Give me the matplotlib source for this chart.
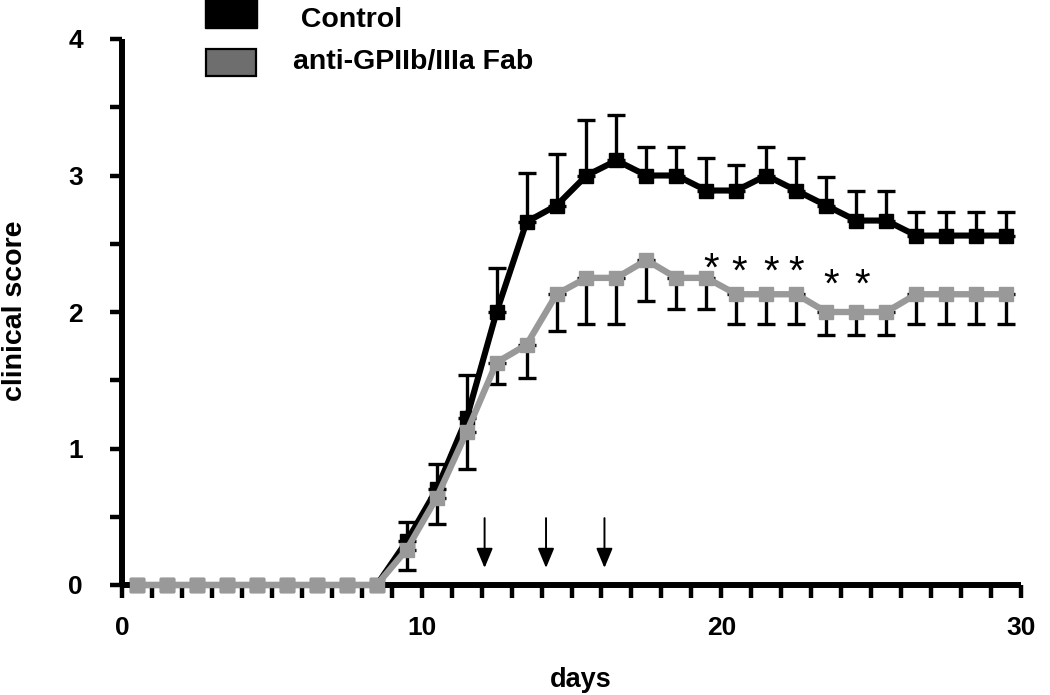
import matplotlib
matplotlib.use("Agg")
import matplotlib.pyplot as plt
from matplotlib.patches import Rectangle
from matplotlib.ticker import MultipleLocator, FixedLocator
import numpy as np

# ---- data ----
days = [0.5, 1.5, 2.5, 3.5, 4.5, 5.5, 6.5, 7.5, 8.5, 9.5,
        10.5, 11.5, 12.5, 13.5, 14.5, 15.5, 16.5, 17.5, 18.5, 19.5,
        20.5, 21.5, 22.5, 23.5, 24.5, 25.5, 26.5, 27.5, 28.5, 29.5]

control = [0, 0, 0, 0, 0, 0, 0, 0, 0, 0.32,
           0.70, 1.22, 2.00, 2.66, 2.78, 3.00, 3.11, 3.00, 3.00, 2.89,
           2.89, 3.00, 2.89, 2.78, 2.67, 2.67, 2.56, 2.56, 2.56, 2.56]
control_err = [0, 0, 0, 0, 0, 0, 0, 0, 0, 0.14,
               0.19, 0.32, 0.32, 0.36, 0.38, 0.41, 0.33, 0.21, 0.21, 0.24,
               0.19, 0.21, 0.24, 0.21, 0.22, 0.22, 0.17, 0.17, 0.17, 0.17]

fab = [0, 0, 0, 0, 0, 0, 0, 0, 0, 0.26,
       0.64, 1.12, 1.63, 1.76, 2.13, 2.25, 2.25, 2.38, 2.25, 2.25,
       2.13, 2.13, 2.13, 2.00, 2.00, 2.00, 2.13, 2.13, 2.13, 2.13]
fab_err = [0, 0, 0, 0, 0, 0, 0, 0, 0, 0.15,
           0.19, 0.27, 0.16, 0.24, 0.27, 0.34, 0.34, 0.30, 0.23, 0.23,
           0.22, 0.22, 0.22, 0.17, 0.17, 0.17, 0.22, 0.22, 0.22, 0.22]

arrow_days = [12.1, 14.15, 16.1]
star_days = [19.65, 20.6, 21.65, 22.5, 23.65, 24.7]
star_heights = [2.31, 2.29, 2.29, 2.29, 2.19, 2.19]

legend_labels = [" Control", "anti-GPIIb/IIIa Fab"]
x_major = [0, 10, 20, 30]
y_major = [0, 1, 2, 3, 4]

# ---- style ----
FONT = "Liberation Sans"
BLACK = "#000000"
GRAY = "#999999"
GRAY_LEG = "#6e6e6e"

W, H = 1050, 695
fig = plt.figure(figsize=(W / 100, H / 100), dpi=100)
left_px, right_px, top_px, bottom_px = 122, 1021, 39, 585
ax = fig.add_axes([left_px / W, 1 - bottom_px / H,
                   (right_px - left_px) / W, (bottom_px - top_px) / H])

ax.set_xlim(0, 30)
ax.set_ylim(0, 4)

for s in ["top", "right"]:
    ax.spines[s].set_visible(False)
for s in ["left", "bottom"]:
    ax.spines[s].set_linewidth(4.3)
    ax.spines[s].set_zorder(2)
    ax.spines[s].set_capstyle("butt")

ax.xaxis.set_major_locator(FixedLocator(x_major))
ax.xaxis.set_minor_locator(MultipleLocator(1))
ax.yaxis.set_major_locator(FixedLocator(y_major))
ax.yaxis.set_minor_locator(MultipleLocator(0.5))
ax.tick_params(axis="both", which="both", direction="out", length=9, width=3.2, color=BLACK)
ax.tick_params(axis="x", which="major", pad=13)
ax.tick_params(axis="y", which="major", pad=19)
for lab in ax.get_xticklabels() + ax.get_yticklabels():
    lab.set_fontfamily(FONT)
    lab.set_fontweight("bold")
    lab.set_fontsize(19)

d = np.array(days)
c = np.array(control)
ce = np.array(control_err)
f = np.array(fab)
fe = np.array(fab_err)

mc = ce > 0
ax.errorbar(d[mc], c[mc], yerr=[np.zeros(mc.sum()), ce[mc]], fmt="none",
            ecolor=BLACK, elinewidth=2.4, capsize=6.5, capthick=2.4, zorder=3)
ax.plot(d, c, color=BLACK, lw=4.4, marker="s", ms=9.5, mfc=BLACK, mec=BLACK,
        zorder=4, clip_on=False)

mf = fe > 0
ax.errorbar(d[mf], f[mf], yerr=[fe[mf], np.zeros(mf.sum())], fmt="none",
            ecolor=BLACK, elinewidth=2.4, capsize=6.5, capthick=2.4, zorder=5)
ax.plot(d, f, color=GRAY, lw=4.6, marker="s", ms=9.5, mfc=GRAY, mec=GRAY,
        zorder=6, clip_on=False)

for xa in arrow_days:
    ax.annotate("", xy=(xa, 0.125), xytext=(xa, 0.49),
                arrowprops=dict(arrowstyle="-|>,head_length=0.6,head_width=0.25",
                                mutation_scale=20, lw=1.4, color=BLACK,
                                shrinkA=0, shrinkB=0), zorder=7)

for xs, ys in zip(star_days, star_heights):
    ax.text(xs, ys, "*", ha="center", va="center", fontsize=29,
            fontfamily=FONT, color=BLACK, zorder=7)

# axis titles
ax.text((581 - left_px) / (right_px - left_px), (bottom_px - 680) / (bottom_px - top_px),
        "days", transform=ax.transAxes, ha="center", va="center",
        fontsize=19.5, fontweight="bold", fontfamily=FONT)
ax.text((15 - left_px) / (right_px - left_px), (bottom_px - 311) / (bottom_px - top_px),
        "clinical score", transform=ax.transAxes, ha="center", va="center",
        rotation=90, fontsize=20.5, fontweight="bold", fontfamily=FONT)

# legend (drawn manually in figure pixels)
def fx(px):
    return px / W

def fy(py):
    return 1 - py / H

fig.patches.append(Rectangle((fx(205), fy(28)), fx(257) - fx(205), fy(0) - fy(28) + 0.01,
                             transform=fig.transFigure, facecolor=BLACK, edgecolor=BLACK, lw=1))
fig.patches.append(Rectangle((fx(206), fy(76)), fx(256) - fx(206), fy(49) - fy(76),
                             transform=fig.transFigure, facecolor=GRAY_LEG, edgecolor=BLACK, lw=1.6))
fig.text(fx(293), fy(20), legend_labels[0], ha="left", va="center", fontsize=20.5,
         fontweight="bold", fontfamily=FONT)
fig.text(fx(293), fy(62), legend_labels[1], ha="left", va="center", fontsize=20.5,
         fontweight="bold", fontfamily=FONT)

fig.savefig("out.png", dpi=100)
